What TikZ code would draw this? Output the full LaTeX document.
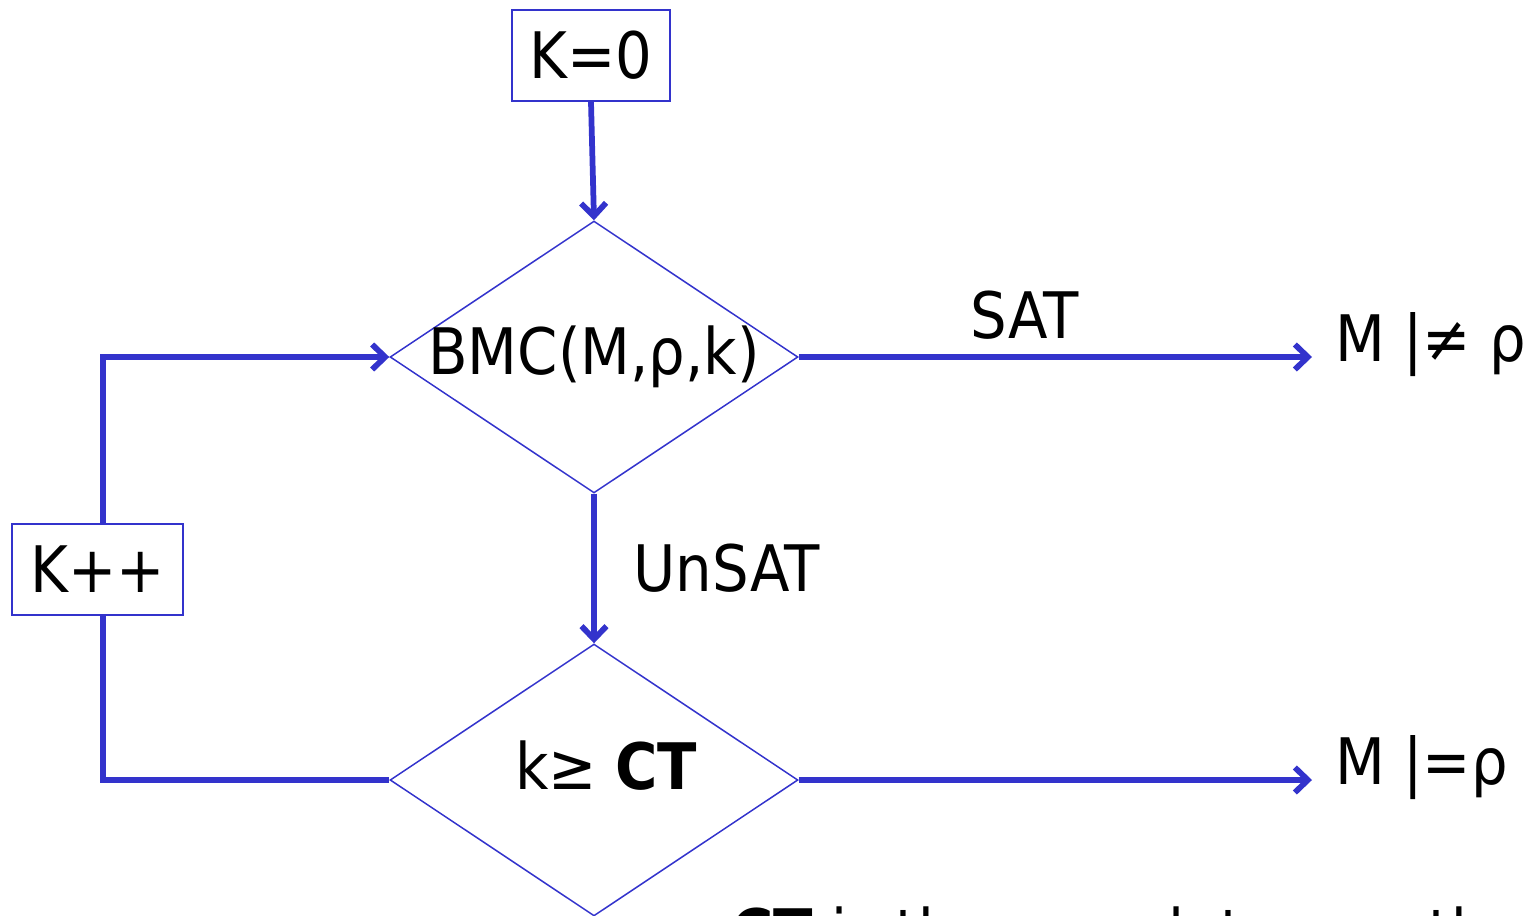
\documentclass[tikz,border=0pt]{standalone}
\usepackage{fontspec}
\setmainfont{DejaVu Sans Condensed}
\usepackage{tikz}
\usetikzlibrary{arrows.meta,positioning,calc,shapes.geometric}
\definecolor{flowblue}{RGB}{51,51,204}

\begin{document}
\begin{tikzpicture}[x=0.02cm,y=-0.02cm,
    font=\fontsize{36.5}{42}\selectfont,
    box/.style={draw=flowblue,line width=0.04cm,fill=white,inner sep=0pt,minimum height=1.82cm},
    decision/.style={diamond,draw=flowblue,line width=0.03cm,inner sep=0pt,minimum width=8.16cm,minimum height=5.44cm},
    line/.style={draw=flowblue,line width=0.115cm},
    flow/.style={line,-{Straight Barb[length=0.26cm,width=0.5cm]}},
    result/.style={anchor=west,inner sep=0pt}]
  \useasboundingbox (0,0) rectangle (1535,916);
  \clip (0,0) rectangle (1535,916);
  % boxes and tests
  \node[box,minimum width=3.16cm] (kzero) at (591,55.5) {K=0};
  \node[box,minimum width=3.42cm] (kinc) at (97.5,569.5) {K++};
  \node[decision,label=center:{BMC(M,ρ,k)}] (bmc) at (594,357) {};
  \node[decision,label={[xshift=0.24cm,yshift=0.28cm]center:{k≥ \textbf{CT}}}] (ct) at (594,780) {};
  % outcomes
  \node[result] (cex) at (1335,345) {M |≠ ρ};
  \node[result] (holds) at (1335,768) {M |=ρ};
  \node[anchor=base west,inner sep=0pt] (note) at (731,955) {\textbf{CT} is the completeness threshold};
  % connectors
  \draw[flow] (kzero.south) -- (bmc.north);
  \draw[flow] (bmc.east) -- node[above=0.18cm,pos=0.44] {SAT} ($(bmc.east-|cex.west)+(-23,0)$);
  \draw[flow] (bmc.south) -- node[right=0.62cm] {UnSAT} (ct.north);
  \draw[flow] (ct.east) -- ($(ct.east-|holds.west)+(-23,0)$);
  % loop back through K++
  \draw[flow] ([xshift=0.11cm]kinc.north) |- (bmc.west);
  \draw[line] ([xshift=0.11cm]kinc.south) |- (ct.west);
\end{tikzpicture}
\end{document}
